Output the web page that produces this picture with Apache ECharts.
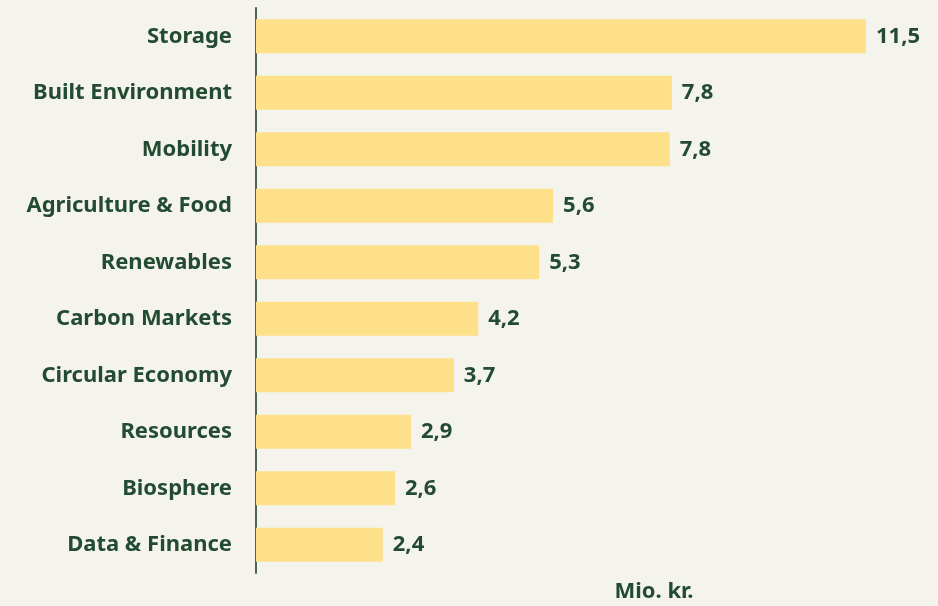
<!DOCTYPE html>
<html>
<head>
<meta charset="utf-8">
<script src="https://cdn.jsdelivr.net/npm/echarts@6/dist/echarts.min.js"></script>
<style>
  html, body { margin: 0; padding: 0; background: #f5f4ec; }
  #chart { width: 938px; height: 606px; }
</style>
</head>
<body>
<div id="chart"></div>
<script>
// categories top to bottom
const categories = ['Storage', 'Built Environment', 'Mobility', 'Agriculture & Food', 'Renewables',
  'Carbon Markets', 'Circular Economy', 'Resources', 'Biosphere', 'Data & Finance'];
const values = [11.5, 7.84, 7.8, 5.6, 5.34, 4.19, 3.73, 2.92, 2.62, 2.39];
const unitLabel = 'Mio. kr.';

const textColor = '#234a32';

const chart = echarts.init(document.getElementById('chart'));
chart.setOption({
  backgroundColor: '#f5f4ec',
  textStyle: { fontFamily: 'Noto Sans' },
  grid: { left: 256, right: 72, top: 8, bottom: 33, containLabel: false, outerBoundsMode: 'none' },
  xAxis: {
    type: 'value',
    min: 0,
    max: 11.5,
    name: unitLabel,
    nameLocation: 'middle',
    nameGap: 8,
    nameTextStyle: { color: textColor, fontSize: 22, fontWeight: 'bold', padding: [0, 0, 0, 186] },
    axisLine: { show: false },
    axisTick: { show: false },
    axisLabel: { show: false },
    splitLine: { show: false }
  },
  yAxis: {
    type: 'category',
    inverse: true,
    data: categories,
    axisLine: { show: true, lineStyle: { color: '#4d6450', width: 2 } },
    axisTick: { show: false },
    axisLabel: { color: textColor, fontSize: 22, fontWeight: 'bold', margin: 24 }
  },
  series: [{
    type: 'bar',
    data: values,
    barWidth: 34,
    itemStyle: { color: '#fee08b' },
    label: {
      show: true,
      position: 'right',
      distance: 10,
      color: textColor,
      fontSize: 22,
      fontWeight: 'bold',
      formatter: p => p.value.toFixed(1).replace('.', ',')
    }
  }]
});
</script>
</body>
</html>
